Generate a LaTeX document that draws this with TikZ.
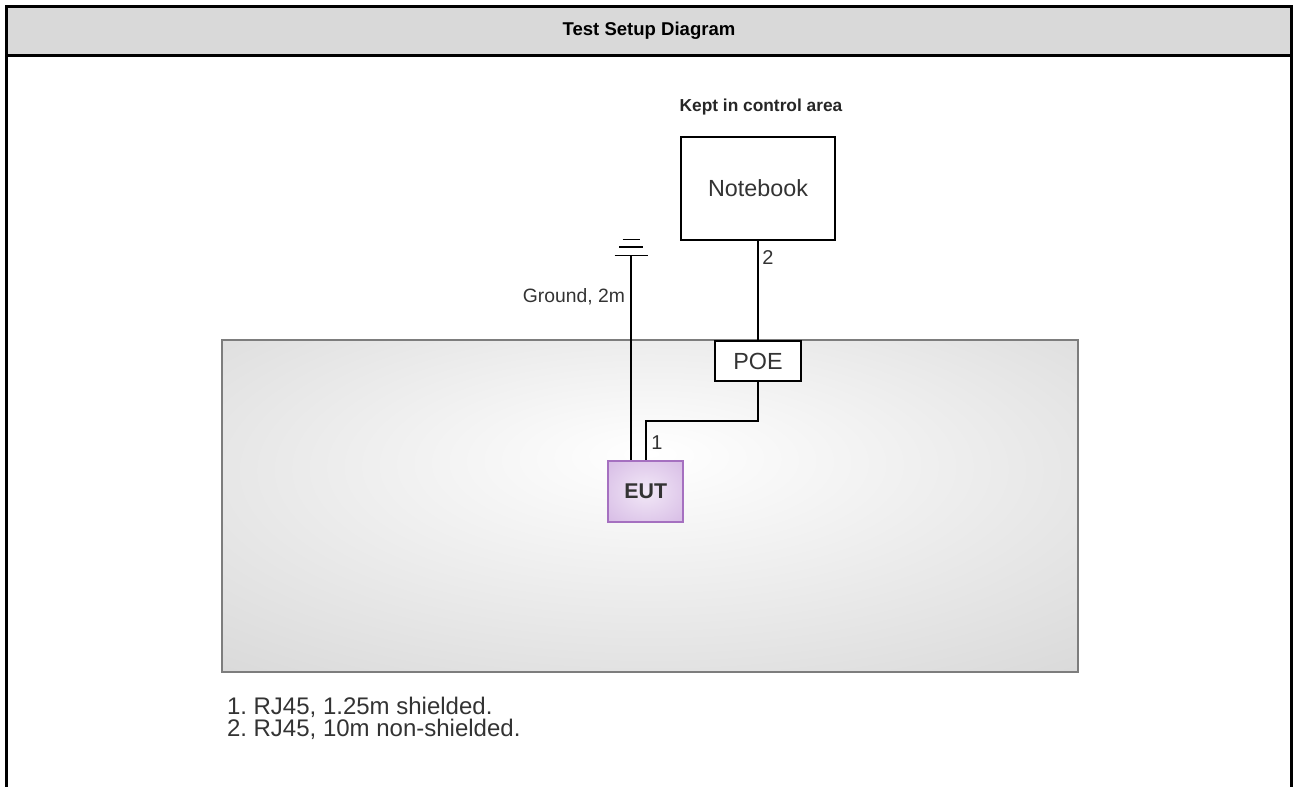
\documentclass[tikz,border=0pt]{standalone}
\usepackage{fontspec}
\setmainfont{Liberation Sans}
\frenchspacing

\definecolor{headgray}{RGB}{217,217,217}
\definecolor{benchedge}{RGB}{125,125,125}
\definecolor{benchmid}{RGB}{206,206,206}
\definecolor{benchout}{RGB}{197,197,197}
\definecolor{eutedge}{RGB}{165,112,192}
\definecolor{eutfill}{RGB}{204,170,222}
\definecolor{eutcore}{RGB}{242,232,247}
\definecolor{inktext}{RGB}{51,51,51}

\pgfdeclareradialshading{benchglow}{\pgfpoint{0bp}{8bp}}{color(0bp)=(white); color(50bp)=(benchmid); color(72bp)=(benchout)}
\pgfdeclareradialshading{eutglow}{\pgfpoint{0bp}{0bp}}{color(0bp)=(eutcore); color(50bp)=(eutfill); color(72bp)=(eutfill)}

\tikzset{every picture/.style={line width=1.5pt},
  devbox/.style={draw, fill=white, inner sep=0pt, text=inktext, font=\fontsize{17.5}{20}\selectfont},
  eutbox/.style={draw=eutedge, shade, shading=eutglow, inner sep=0pt, text=inktext, font=\fontsize{16}{18}\selectfont\bfseries},
  tag/.style={inner sep=0pt, text=inktext, font=\fontsize{15}{17}\selectfont},
  notetext/.style={anchor=west, inner sep=0pt, text=inktext, font=\fontsize{18}{21}\selectfont}}

\begin{document}
\begin{tikzpicture}[x=0.75pt,y=0.75pt,yscale=-1,xscale=1]
	\useasboundingbox (0,0) rectangle (1293,787);

	%Shape: Rectangle (header band)
	\fill [headgray] (8,8) rectangle (1290,55);
	%Straight Lines (frame)
	\draw [line width=2.5pt] (6.7,787) -- (6.7,6.7) -- (1291.6,6.7) -- (1291.6,787) ;
	\draw [line width=1.7pt] (6.7,55.5) -- (1291.6,55.5) ;

	%Shape: Rectangle (test bench)
	\shade [shading=benchglow, draw=benchedge, line width=1.5pt] (222,340.5) rectangle (1078,672.5) ;

	% Text Node
	\node [inner sep=0pt, font=\fontsize{13.9}{16}\selectfont\bfseries] (title) at (649,31) {Test Setup Diagram};
	% Text Node
	\node [inner sep=0pt, text=black!85, font=\fontsize{13}{15}\selectfont\bfseries] (area) at (761,107) {Kept in control area};

	% Devices
	\node [devbox, minimum width=115.5pt, minimum height=77.25pt] (notebook) at (758,188.5) {Notebook};
	\node [devbox, minimum width=64.5pt, minimum height=29.75pt] (poe) at (758,361) {POE};
	\node [eutbox, minimum width=56.25pt, minimum height=45.75pt] (eut) at (645.8,491.2) {EUT};

	%Straight Lines (cable 2)
	\draw (notebook.south) -- (poe.north) ;
	%Straight Lines (cable 1)
	\draw (poe.south) -- ++(0,39.5) -| (eut.north) ;

	%Ground symbol
	\coordinate (gnd) at (631,255.5);
	\draw (gnd) -- (eut.north -| gnd) ;
	\foreach \w/\d in {33/0,24/8.5,17/16}
		\draw [line width=1.3pt] (gnd) ++(-\w/2,-\d) -- ++(\w,0) ;

	% Text Node
	\node [tag, anchor=east, font=\fontsize{14.5}{17}\selectfont] (gndlabel) at (626,297) {Ground, 2m};
	% Text Node
	\node [tag] (lblone) at (657,443) {1};
	% Text Node
	\node [tag] (lbltwo) at (768,258) {2};

	% Text Node
	\node [notetext] (noteone) at (226,707) {1. RJ45, 1.25m shielded.};
	% Text Node
	\node [notetext] (notetwo) at (226,729) {2. RJ45, 10m non-shielded.};

\end{tikzpicture}
\end{document}
